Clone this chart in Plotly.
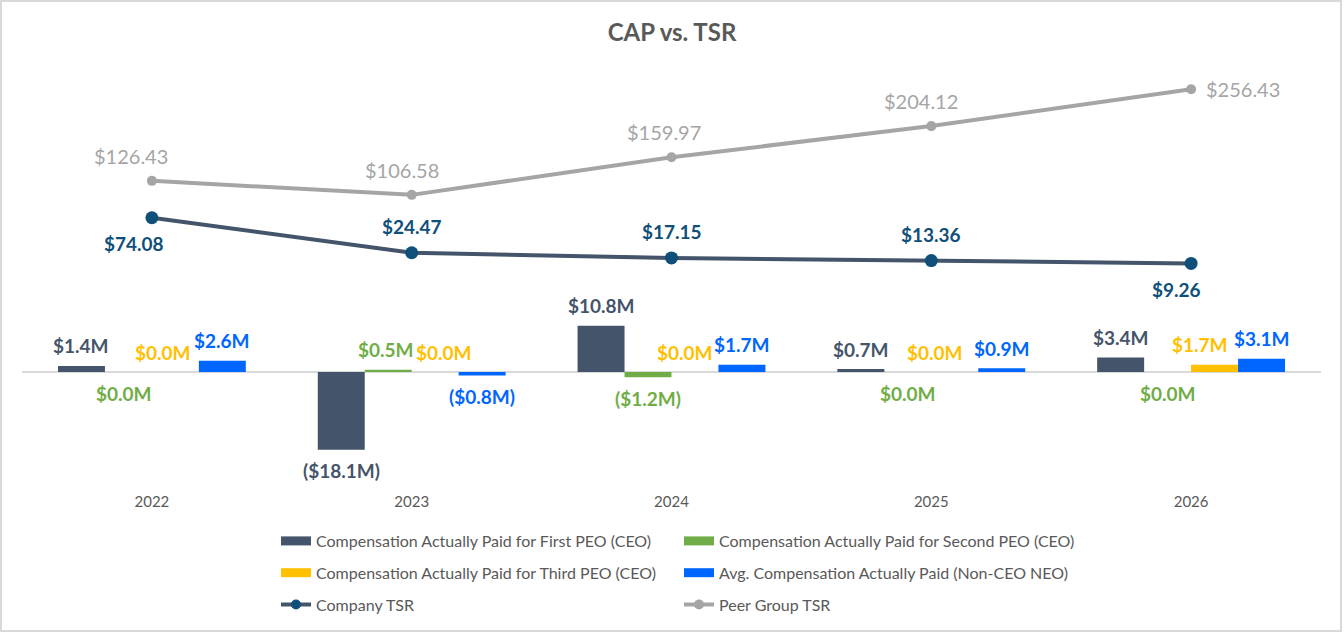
import plotly.graph_objects as go

years = ["2022", "2023", "2024", "2025", "2026"]
cap_first_peo = [1.4, -18.1, 10.8, 0.7, 3.4]
cap_second_peo = [0.0, 0.5, -1.2, 0.0, 0.0]
cap_third_peo = [0.0, 0.0, 0.0, 0.0, 1.7]
cap_avg_neo = [2.6, -0.8, 1.7, 0.9, 3.1]
company_tsr = [74.08, 24.47, 17.15, 13.36, 9.26]
peer_tsr = [126.43, 106.58, 159.97, 204.12, 256.43]

names = [
    "Compensation Actually Paid for First PEO (CEO)",
    "Compensation Actually Paid for Second PEO (CEO)",
    "Compensation Actually Paid for Third PEO (CEO)",
    "Avg. Compensation Actually Paid (Non-CEO NEO)",
]
colors = ["#44546A", "#70AD47", "#FFC000", "#0066FF"]
series = [cap_first_peo, cap_second_peo, cap_third_peo, cap_avg_neo]

FONT = "Lato"
W, H = 1344, 634
ML, MR, MT, MB = 22, 23, 60, 0
PLOT_BOTTOM = 490  # px from top where the bar/line plot area ends

fig = go.Figure()

for nm, col, vals in zip(names, colors, series):
    fig.add_trace(go.Bar(x=years, y=vals, name=nm, marker=dict(color=col, line=dict(width=0)),
                         showlegend=False, yaxis="y", hoverinfo="skip"))

fig.add_trace(go.Scatter(x=years, y=company_tsr, name="Company TSR", yaxis="y2", mode="lines+markers",
                         line=dict(color="#44546A", width=4), marker=dict(color="#0F4F7A", size=13),
                         showlegend=False))
fig.add_trace(go.Scatter(x=years, y=peer_tsr, name="Peer Group TSR", yaxis="y2", mode="lines+markers",
                         line=dict(color="#A5A5A5", width=4), marker=dict(color="#A5A5A5", size=10),
                         showlegend=False))

# legend entries (two columns)
leg1 = [(names[0], colors[0], "bar"), (names[2], colors[2], "bar"), ("Company TSR", "#44546A", "line")]
leg2 = [(names[1], colors[1], "bar"), (names[3], colors[3], "bar"), ("Peer Group TSR", "#A5A5A5", "line")]
for legname, items in (("legend", leg1), ("legend2", leg2)):
    for nm, col, kind in items:
        if kind == "bar":
            fig.add_trace(go.Scatter(x=[None], y=[None], mode="lines", name=nm, legend=legname,
                                     legendgroup=nm, line=dict(color=col, width=9)))
        else:
            mcol = "#0F4F7A" if nm == "Company TSR" else "#A5A5A5"
            fig.add_trace(go.Scatter(x=[None], y=[None], mode="lines+markers", name=nm, legend=legname,
                                     legendgroup=nm, line=dict(color=col, width=4),
                                     marker=dict(color=mcol, size=10)))

# bar labels
bargap = 0.277
bw = (1 - bargap) / 4
ann = []
def fmt(v):
    return f"(${abs(v):.1f}M)" if v < 0 else f"${v:.1f}M"
# small horizontal nudges (px) to avoid label overlap, per series
nudge = [[0, 0, 0, 0, 0], [-4, -2, 0, 0, 0], [-12, 9, -10, -20, -15], [0, 0, 0, 0, 0]]
for k, (col, vals) in enumerate(zip(colors, series)):
    off = (k - 1.5) * bw
    for i, v in enumerate(vals):
        above = v > 0 or (v == 0 and k != 1)
        ann.append(dict(x=i + off, y=v, xref="x", yref="y", text=f"<b>{fmt(v)}</b>", showarrow=False,
                        yshift=20 if above else -21, xshift=nudge[k][i],
                        font=dict(family=FONT, size=19, color=col)))

# TSR labels
company_dir = [-1, 1, 1, 1, -1]
company_dx = [-18, 0, 0, 0, -15]
for i, v in enumerate(company_tsr):
    ann.append(dict(x=i, y=v, xref="x", yref="y2", text=f"<b>${v:.2f}</b>", showarrow=False,
                    yshift=26 * company_dir[i], xshift=company_dx[i],
                    font=dict(family=FONT, size=19, color="#0F4F7A")))
peer_dx = [-21, -10, -8, -10]
for i, v in enumerate(peer_tsr):
    if i == len(peer_tsr) - 1:
        ann.append(dict(x=i, y=v, xref="x", yref="y2", text=f"${v:.2f}", showarrow=False,
                        xanchor="left", xshift=13, font=dict(family=FONT, size=20, color="#A5A5A5")))
    else:
        ann.append(dict(x=i, y=v, xref="x", yref="y2", text=f"${v:.2f}", showarrow=False,
                        yshift=25, xshift=peer_dx[i], font=dict(family=FONT, size=20, color="#A5A5A5")))

paper_h = H - MT - MB
pw = W - ML - MR
dom_bottom = (H - MB - PLOT_BOTTOM) / paper_h
zero1, s1 = 372.0, 4.29
zero2, s2 = 270.0, 0.705
y1_range = [-(PLOT_BOTTOM - zero1) / s1, (zero1 - MT) / s1]
y2_range = [-(PLOT_BOTTOM - zero2) / s2, (zero2 - MT) / s2]

legend_common = dict(orientation="v", yanchor="top", xanchor="left", traceorder="grouped",
                     tracegroupgap=8, font=dict(family=FONT, size=16, color="#595959"),
                     bgcolor="rgba(0,0,0,0)", itemwidth=30)

def px_y(py):
    return (H - MB - py) / paper_h

y_leg = px_y(524)

fig.update_layout(
    width=W, height=H,
    margin=dict(l=ML, r=MR, t=MT, b=MB),
    paper_bgcolor="white", plot_bgcolor="white",
    barmode="group", bargap=bargap, bargroupgap=0,
    title=dict(text="<b>CAP vs. TSR</b>", x=0.5, xanchor="center", y=1 - 33 / H, yanchor="middle",
               font=dict(family=FONT, size=24, color="#595959")),
    xaxis=dict(showgrid=False, showline=False, ticks="", ticklabelstandoff=1,
               tickfont=dict(family=FONT, size=15, color="#595959"), range=[-0.5, 4.5]),
    yaxis=dict(range=y1_range, domain=[dom_bottom, 1], showgrid=False, showticklabels=False,
               zeroline=True, zerolinecolor="#D9D9D9", zerolinewidth=2),
    yaxis2=dict(range=y2_range, overlaying="y", side="right", showgrid=False, showticklabels=False,
                zeroline=False),
    legend=dict(x=(276 - ML) / pw, y=y_leg, **legend_common),
    legend2=dict(x=(679 - ML) / pw, y=y_leg, **legend_common),
    annotations=ann,
    shapes=[dict(type="rect", xref="paper", yref="paper",
                 x0=(1 - ML) / pw, x1=(W - 3 - ML) / pw,
                 y0=px_y(H - 3), y1=px_y(1),
                 line=dict(color="#D9D9D9", width=2), layer="below")],
)

fig.write_html("out.html")
